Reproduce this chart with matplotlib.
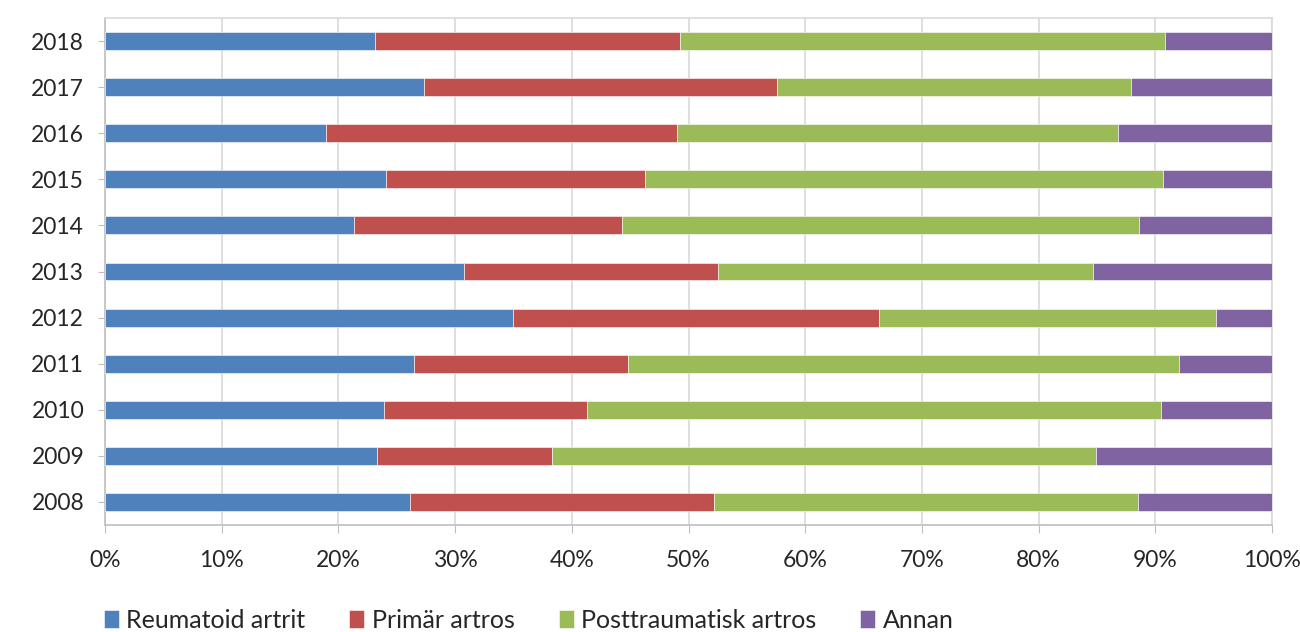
import matplotlib.pyplot as plt
import numpy as np

# data: share per year (%)
years = ['2008', '2009', '2010', '2011', '2012', '2013', '2014', '2015', '2016', '2017', '2018']
reumatoid = [26.1, 23.3, 23.9, 26.5, 35.0, 30.8, 21.3, 24.1, 18.9, 27.3, 23.1]
primar = [26.1, 15.0, 17.4, 18.3, 31.3, 21.7, 23.0, 22.2, 30.1, 30.3, 26.15]
posttraumatisk = [36.3, 46.6, 49.2, 47.2, 28.9, 32.2, 44.3, 44.4, 37.8, 30.3, 41.55]
annan = [11.5, 15.1, 9.5, 8.0, 4.8, 15.3, 11.4, 9.3, 13.2, 12.1, 9.2]

labels = ['Reumatoid artrit', 'Primär artros', 'Posttraumatisk artros', 'Annan']
colors = ['#4F81BD', '#C0504D', '#9BBB59', '#8064A2']
series = [reumatoid, primar, posttraumatisk, annan]

plt.rcParams['font.family'] = ['Lato', 'DejaVu Sans']
plt.rcParams['font.size'] = 16.5

fig = plt.figure(figsize=(13, 6.32), dpi=100)
ax = fig.add_axes([105 / 1300, 1 - 525 / 632, 1167 / 1300, 507 / 632])

y = np.arange(len(years))
left = np.zeros(len(years))
handles = []
for vals, col, lab in zip(series, colors, labels):
    vals = np.array(vals)
    b = ax.barh(y, vals, left=left, height=0.39, color=col, edgecolor='white',
                linewidth=0.4, label=lab, zorder=3)
    handles.append(b)
    left = left + vals

ax.set_xlim(0, 100)
ax.set_ylim(-0.5, len(years) - 0.5)
ax.set_yticks(y)
ax.set_yticklabels(years, color='#262626')
ax.set_xticks(np.arange(0, 101, 10))
ax.set_xticklabels([f'{v}%' for v in range(0, 101, 10)], color='#262626')
ax.grid(True, axis='x', color='#d9d9d9', linewidth=1.2, zorder=0)
for s in ['top', 'right']:
    ax.spines[s].set_color('#d9d9d9')
    ax.spines[s].set_linewidth(1.2)
for s in ['left', 'bottom']:
    ax.spines[s].set_color('#bfbfbf')
    ax.spines[s].set_linewidth(1.2)
ax.tick_params(axis='y', length=5, color='#bfbfbf', pad=10)
ax.tick_params(axis='x', length=6, color='#bfbfbf', pad=12)

fig.legend(handles=handles, labels=labels, loc='lower left', ncol=4,
           bbox_to_anchor=(104 / 1300, 0.0), frameon=False,
           borderpad=0, borderaxespad=0,
           handlelength=0.6, handleheight=0.75, handletextpad=0.3,
           columnspacing=1.75, fontsize=18, labelcolor='#262626')

fig.savefig('out.png', dpi=100)
